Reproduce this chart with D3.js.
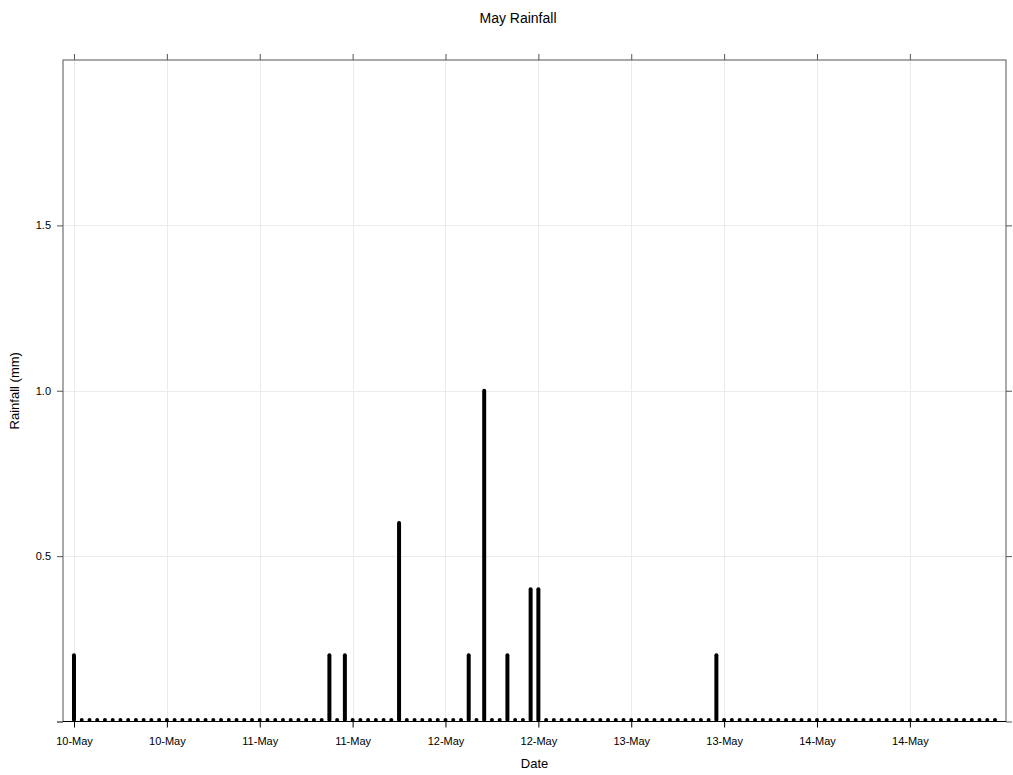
<!DOCTYPE html>
<html>
<head>
<meta charset="utf-8">
<script src="https://cdn.jsdelivr.net/npm/d3@7"></script>
<style>
  body { margin: 0; background: #fff; }
  svg { font-family: "Liberation Sans", Arial, sans-serif; }
</style>
</head>
<body>
<svg id="chart" width="1013" height="775"></svg>
<script>
// hourly readings starting 10 May 00:00
let startTime = "2024-05-10T00:00:00Z";
let rainfall = [
  0.2, 0, 0, 0, 0, 0, 0, 0, 0, 0, 0, 0,
  0, 0, 0, 0, 0, 0, 0, 0, 0, 0, 0, 0,
  0, 0, 0, 0, 0, 0, 0, 0, 0, 0.2, 0, 0.2,
  0, 0, 0, 0, 0, 0, 0.6, 0, 0, 0, 0, 0,
  0, 0, 0, 0.2, 0, 1.0, 0, 0, 0.2, 0, 0, 0.4,
  0.4, 0, 0, 0, 0, 0, 0, 0, 0, 0, 0, 0,
  0, 0, 0, 0, 0, 0, 0, 0, 0, 0, 0, 0.2,
  0, 0, 0, 0, 0, 0, 0, 0, 0, 0, 0, 0,
  0, 0, 0, 0, 0, 0, 0, 0, 0, 0, 0, 0,
  0, 0, 0, 0, 0, 0, 0, 0, 0, 0, 0, 0
];
let yTicks = [0, 0.5, 1.0, 1.5];
let yTickLabels = ["", "0.5", "1.0", "1.5"];

let t0 = new Date(startTime);
let data = rainfall.map((v, i) => ({date: d3.utcHour.offset(t0, i), value: v}));

let pLeft = 63, pRight = 1006, pTop = 60, pBottom = 721.5;
let pad = 1.42 * 3600 * 1000;
let x = d3.scaleUtc()
  .domain([+data[0].date - pad, +data[data.length - 1].date + pad])
  .range([pLeft, pRight]);
let y = d3.scaleLinear().domain([0, 2]).range([pBottom, pTop]);

let svg = d3.select("#chart");
let xTicks = d3.utcHour.every(12).range(data[0].date, d3.utcHour.offset(data[data.length - 1].date, 1));
let fmt = d3.utcFormat("%d-%b");

// grid
svg.append("g").selectAll("line").data(xTicks).join("line")
  .attr("x1", d => Math.round(x(d)) + 0.5).attr("x2", d => Math.round(x(d)) + 0.5)
  .attr("y1", pTop).attr("y2", pBottom)
  .attr("stroke", "#ebebeb");
svg.append("g").selectAll("line").data(yTicks.slice(1)).join("line")
  .attr("x1", pLeft).attr("x2", pRight)
  .attr("y1", d => Math.round(y(d)) + 0.5).attr("y2", d => Math.round(y(d)) + 0.5)
  .attr("stroke", "#ebebeb");

// bars (type "h")
svg.append("g").selectAll("line").data(data).join("line")
  .attr("x1", d => x(d.date)).attr("x2", d => x(d.date))
  .attr("y1", y(0) - 1.5).attr("y2", d => y(d.value) - (d.value > 0 ? 0 : 1.5))
  .attr("stroke", "#000")
  .attr("stroke-width", 4)
  .attr("stroke-linecap", "round");

// axes
let axisCol = "#555";
let xb = svg.append("g").attr("transform", `translate(0,${pBottom})`)
  .call(d3.axisBottom(x).tickValues(xTicks).tickFormat(fmt).tickSize(6).tickPadding(10));
let xt = svg.append("g").attr("transform", `translate(0,${pTop})`)
  .call(d3.axisTop(x).tickValues(xTicks).tickFormat("").tickSize(6));
let yl = svg.append("g").attr("transform", `translate(${pLeft},0)`)
  .call(d3.axisLeft(y).tickValues(yTicks).tickFormat((d, i) => yTickLabels[i]).tickSize(6).tickPadding(6));
let yr = svg.append("g").attr("transform", `translate(${pRight},0)`)
  .call(d3.axisRight(y).tickValues(yTicks).tickFormat("").tickSize(6));
[xb, xt, yl, yr].forEach(g => {
  g.select(".domain").remove();
  g.selectAll("line").attr("stroke", axisCol);
  g.selectAll("text").attr("fill", "#000").style("font-size", "11px");
});
xb.selectAll("line").attr("stroke", "#000");
yl.selectAll(".tick").filter(d => d === 0).select("line").attr("stroke", "#000");

// panel border
svg.append("rect")
  .attr("x", pLeft).attr("y", pTop)
  .attr("width", pRight - pLeft).attr("height", pBottom - pTop)
  .attr("fill", "none").attr("stroke", axisCol);
svg.append("line")
  .attr("x1", pLeft).attr("x2", pRight).attr("y1", pBottom).attr("y2", pBottom)
  .attr("stroke", "#000");

// titles
svg.append("text").attr("x", 518).attr("y", 23).attr("text-anchor", "middle")
  .style("font-size", "14px").text("May Rainfall");
svg.append("text").attr("x", (pLeft + pRight) / 2).attr("y", 768).attr("text-anchor", "middle")
  .style("font-size", "13px").text("Date");
svg.append("text").attr("transform", `translate(19,${(pTop + pBottom) / 2}) rotate(-90)`)
  .attr("text-anchor", "middle").style("font-size", "13px").text("Rainfall (mm)");
</script>
</body>
</html>
